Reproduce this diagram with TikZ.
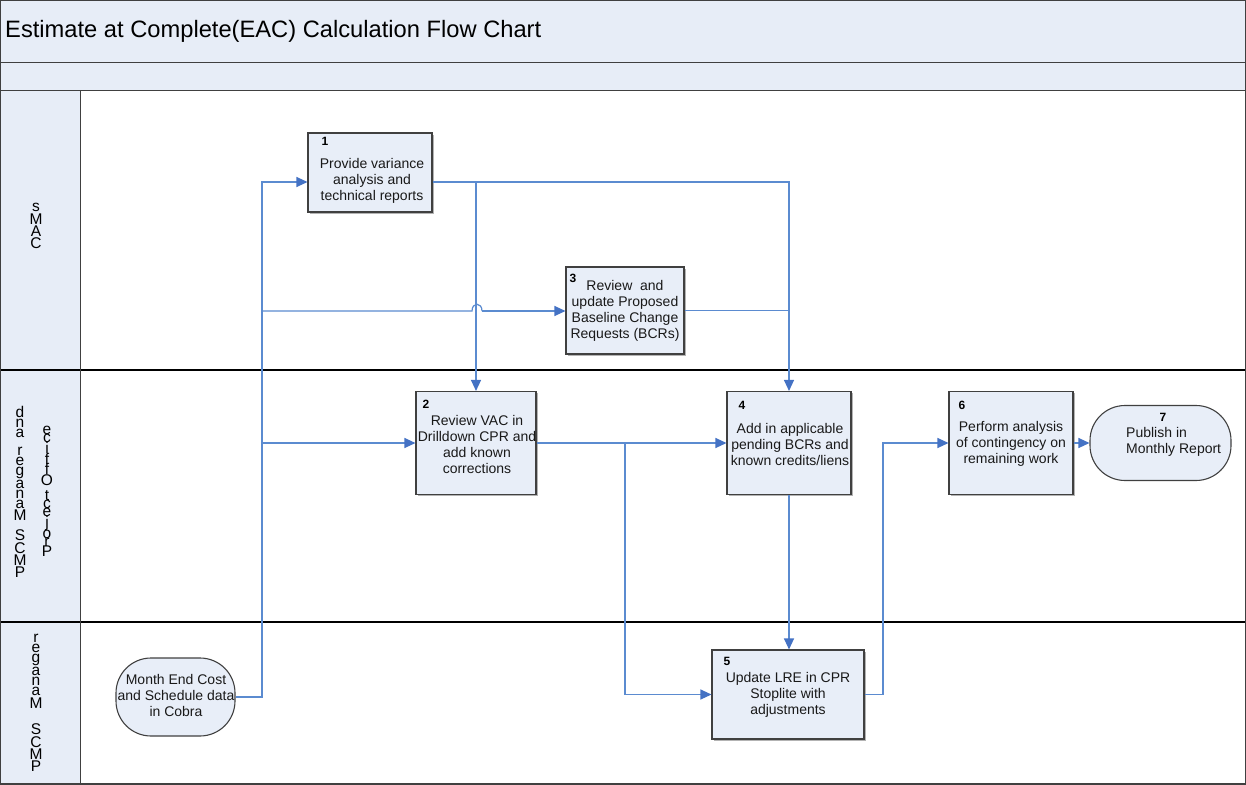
\documentclass[tikz,border=0pt]{standalone}
\usepackage{fontspec}
\setmainfont{Liberation Sans}
\usetikzlibrary{arrows.meta,shadows}
\definecolor{bandfill}{HTML}{E7EDF7}
\definecolor{boxfill}{HTML}{E8EEF8}
\definecolor{frameline}{HTML}{404040}
\definecolor{flowblue}{HTML}{5B8BD0}
\definecolor{tipblue}{HTML}{4472C4}
\newcommand{\stkl}[1]{\hbox to 16pt{\hss#1\hss}}
\newcommand{\stkgap}{\vskip 8pt}
\tikzset{
  procbox/.style={draw=frameline, line width=1.1pt, fill=boxfill, rectangle, inner sep=0pt,
    drop shadow={shadow xshift=1.5pt, shadow yshift=-1.5pt, fill=gray, opacity=.6}},
  termbox/.style={draw=frameline, line width=1.1pt, fill=boxfill, rectangle, inner sep=0pt,
    rounded corners=35pt},
  boxtext/.style={font=\fontsize{14}{16}\selectfont, align=center, inner sep=0pt, text=black!90},
  numtext/.style={font=\fontsize{12}{14}\selectfont\bfseries, inner sep=0pt},
  lanelbl/.style={font=\fontsize{15.5}{16}\selectfont, inner sep=0pt},
  flow/.style={draw=flowblue, line width=1.2pt},
  arr/.style={flow, -{Triangle[length=11pt, width=10pt, fill=tipblue, color=tipblue]}},
}
\begin{document}
\begin{tikzpicture}[x=1pt, y=-1pt]
\useasboundingbox (0,0) rectangle (1246,784);
% frame
\fill[bandfill] (0,0) rectangle (1246,90);
\fill[bandfill] (0,90) rectangle (80,784);
\draw[frameline, line width=1pt] (0,62) -- (1246,62);
\draw[frameline, line width=1pt] (0,90) -- (1246,90);
\draw[black, line width=1.2pt] (0,370) -- (1246,370);
\draw[black, line width=1.2pt] (0,622) -- (1246,622);
\draw[frameline, line width=1pt] (80,90) -- (80,784);
\draw[frameline, line width=1.5pt] (0,0) rectangle (1246,784);
\node[anchor=west, font=\fontsize{23.7}{26}\selectfont, inner sep=0pt] (title) at (5,31) {Estimate at Complete(EAC) Calculation Flow Chart};
% lane labels
\node[lanelbl] (lane1) at (36,226) {\vbox{\baselineskip=0pt\lineskiplimit=0pt\lineskip=1.5pt
  \stkl{s}\stkl{M}\stkl{A}\stkl{C}}};
\node[lanelbl] (lane2a) at (20,492) {\vbox{\baselineskip=0pt\lineskiplimit=0pt\lineskip=1.5pt
  \stkl{d}\stkl{n}\stkl{a}\stkgap\stkl{r}\stkl{e}\stkl{g}\stkl{a}\stkl{n}\stkl{a}\stkl{M}\stkgap
  \stkl{S}\stkl{C}\stkl{M}\stkl{P}}};
\node[lanelbl] (lane2b) at (47,491.5) {\vbox{\baselineskip=0pt\lineskiplimit=0pt\lineskip=-0.5pt
  \stkl{e}\stkl{c}\stkl{i}\stkl{f}\stkl{f}\stkl{O}\vskip 6pt\stkl{t}\stkl{c}\stkl{e}\stkl{j}\stkl{o}\stkl{r}\stkl{P}}};
\node[lanelbl] (lane3) at (36,703) {\vbox{\baselineskip=0pt\lineskiplimit=0pt\lineskip=1.6pt
  \stkl{r}\stkl{e}\stkl{g}\stkl{a}\stkl{n}\stkl{a}\stkl{M}\vskip 14pt
  \stkl{S}\stkl{C}\stkl{M}\stkl{P}}};
% boxes
\node[procbox, minimum width=124pt, minimum height=79pt] (b1) at (370,172.5) {};
\node[procbox, minimum width=118pt, minimum height=87pt] (b3) at (625,310.5) {};
\node[procbox, minimum width=120pt, minimum height=103pt] (b2) at (476,443) {};
\node[procbox, minimum width=124pt, minimum height=103pt] (b4) at (789,443) {};
\node[procbox, minimum width=124pt, minimum height=103pt] (b6) at (1011,443) {};
\node[procbox, minimum width=152pt, minimum height=89pt] (b5) at (788,694.5) {};
\node[termbox, minimum width=141pt, minimum height=75pt] (b7) at (1160.5,443) {};
\node[termbox, minimum width=119pt, minimum height=78pt] (me) at (175.5,697) {};
% numbers
\node[numtext] (n1) at (325,141) {1};
\node[numtext] (n3) at (573,278) {3};
\node[numtext] (n2) at (426,404) {2};
\node[numtext] (n4) at (742,405) {4};
\node[numtext] (n6) at (962,405) {6};
\node[numtext] (n5) at (727,661) {5};
\node[numtext] (n7) at (1163,417) {7};
% texts
\node[boxtext] (t1) at (372,181) {Provide variance\\analysis and\\technical reports};
\node[boxtext] (t3) at (625,311) {Review~ and\\update Proposed\\Baseline Change\\Requests (BCRs)};
\node[boxtext] (t2) at (477,444) {Review VAC in\\Drilldown CPR and\\add known\\corrections};
\node[boxtext] (t4) at (790,444) {Add in applicable\\pending BCRs and\\known credits/liens};
\node[boxtext] (t6) at (1011,444) {Perform analysis\\of contingency on\\remaining work};
\node[boxtext, align=left, anchor=west] (t7) at (1126,442) {Publish in\\Monthly Report};
\node[boxtext] (tme) at (176,695) {Month End Cost\\and Schedule data\\in Cobra};
\node[boxtext] (t5) at (788,695) {Update LRE in CPR\\Stoplite with\\adjustments};
% junctions
\coordinate (jtop) at (262,182);
\coordinate (jmid) at (262,311);
\coordinate (jlow) at (262,443);
\coordinate (hopa) at (472,311);
\coordinate (hopb) at (482,311);
\coordinate (jc) at (625,443);
\coordinate (jd) at (883,443);
% connectors
\draw[arr] (me.east) -| (jtop) -- (jtop -| b1.west);
\draw[flow] (jmid) -- (hopa) .. controls (472,302) and (482,302) .. (hopb);
\draw[arr] (hopb) -- (jmid -| b3.west);
\draw[arr] (jlow) -- (b2.west);
\draw[arr] (jtop -| b1.east) -| (b4.north);
\draw[arr] (b2.north |- jtop) -- (b2.north);
\draw[flow] (b3.east) -- (b3.east -| b4.north);
\draw[arr] (b2.east) -- (b4.west);
\draw[arr] (jc) |- (b5.west);
\draw[arr] (b4.south) -- (b4.south |- b5.north);
\draw[arr] (b5.east) -| (jd) -- (b6.west);
\draw[arr] (b6.east) -- (b7.west);
\end{tikzpicture}
\end{document}
